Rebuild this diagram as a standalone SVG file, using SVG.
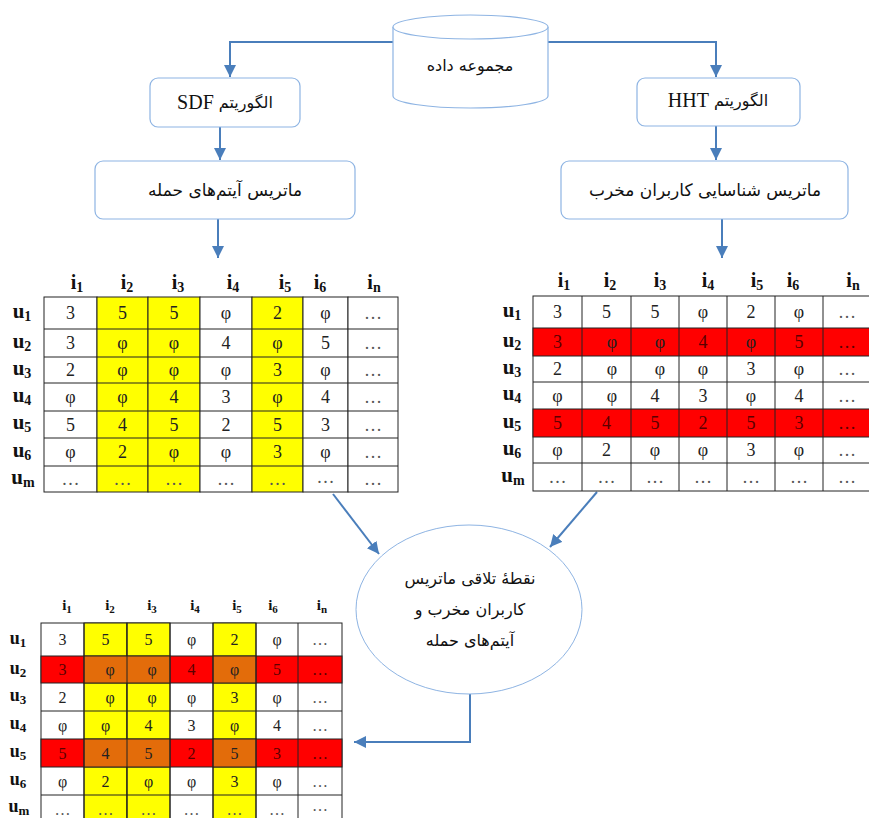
<svg xmlns="http://www.w3.org/2000/svg" width="869" height="818" viewBox="0 0 869 818">
<defs>
<marker id="ah" markerUnits="userSpaceOnUse" markerWidth="14" markerHeight="14" refX="12" refY="6" orient="auto">
<path d="M0,0 L12,6 L0,12 Z" fill="#4A7EBB"/>
</marker>
<style>
.box{fill:#fff;stroke:#8EB4E3;stroke-width:1.2}
.con{fill:none;stroke:#4A7EBB;stroke-width:2;marker-end:url(#ah)}
.fa{font-family:"DejaVu Sans",sans-serif;font-size:16px;fill:#111;text-anchor:middle;dominant-baseline:central}
.en{font-family:"Liberation Serif",serif;font-size:20px}
.c{font-family:"Liberation Serif",serif;font-size:18px;fill:#222;text-anchor:middle;dominant-baseline:central}
.cs{font-family:"Liberation Serif",serif;font-size:16px;fill:#222;text-anchor:middle;dominant-baseline:central}
.d{fill:#555}
.dr{fill:#5a0000}
.h{font-family:"Liberation Serif",serif;font-size:20px;font-weight:bold;fill:#111;text-anchor:middle;dominant-baseline:central}
.hs{font-family:"Liberation Serif",serif;font-size:15px;font-weight:bold;fill:#111;text-anchor:middle;dominant-baseline:central}
.u{font-family:"Liberation Serif",serif;font-size:21px;font-weight:bold;fill:#111;text-anchor:middle;dominant-baseline:central}
.us{font-family:"Liberation Serif",serif;font-size:18px;font-weight:bold;fill:#111;text-anchor:middle;dominant-baseline:central}
.gw{fill:#fff;stroke:#222;stroke-width:1}
.gy{fill:#FFFF00;stroke:#222;stroke-width:1}
.gr{fill:#FF0000;stroke:#222;stroke-width:1}
.go{fill:#E36C0A;stroke:#222;stroke-width:1}
</style>
</defs>
<rect width="869" height="818" fill="#fff"/>

<g id="connectors">
<path class="con" d="M393,42 H230 V77"/>
<path class="con" d="M548,42 H716 V77"/>
<path class="con" d="M220,127 V160"/>
<path class="con" d="M716,126 V160"/>
<path class="con" d="M218,219 V258"/>
<path class="con" d="M722,219 V258"/>
<path class="con" d="M333,494 L379,554"/>
<path class="con" d="M597,492 L550,547"/>
<path class="con" d="M470,694 V742 H354"/>
</g>

<g id="dataset">
<path class="box" d="M393,27 V96 A77.5,12 0 0 0 548,96 V27"/>
<ellipse class="box" cx="470.5" cy="27" rx="77.5" ry="12"/>
<text class="fa" x="470" y="65" direction="rtl">مجموعه داده</text>
</g>

<g id="sdf">
<rect class="box" x="150" y="78" width="150" height="49" rx="8"/>
<text class="fa" x="225" y="102" direction="rtl">الگوریتم <tspan class="en">SDF</tspan></text>
</g>

<g id="hht">
<rect class="box" x="637" y="78" width="163" height="48" rx="8"/>
<text class="fa" x="718" y="100" direction="rtl">الگوریتم <tspan class="en">HHT</tspan></text>
</g>

<g id="attack-matrix">
<rect class="box" x="95" y="161" width="260" height="58" rx="8"/>
<text class="fa" x="225" y="190" direction="rtl" style="font-size:17px">ماتریس آیتم‌های حمله</text>
</g>

<g id="user-matrix">
<rect class="box" x="561" y="161" width="287" height="58" rx="8"/>
<text class="fa" x="705" y="190" direction="rtl" style="font-size:17px">ماتریس شناسایی کاربران مخرب</text>
</g>

<g id="intersection">
<ellipse cx="469" cy="609.5" rx="113" ry="84.5" fill="#fff" stroke="#8EB4E3" stroke-width="1"/>
<text class="fa" x="470" y="578" direction="rtl">نقطهٔ تلاقی ماتریس</text>
<text class="fa" x="470" y="609" direction="rtl">کاربران مخرب و</text>
<text class="fa" x="470" y="640" direction="rtl">آیتم‌های حمله</text>
</g>

<g id="table-left">
<text class="h" x="77" y="282">i<tspan font-size="14" dy="5">1</tspan></text>
<text class="h" x="127" y="282">i<tspan font-size="14" dy="5">2</tspan></text>
<text class="h" x="178" y="282">i<tspan font-size="14" dy="5">3</tspan></text>
<text class="h" x="233" y="282">i<tspan font-size="14" dy="5">4</tspan></text>
<text class="h" x="285" y="282">i<tspan font-size="14" dy="5">5</tspan></text>
<text class="h" x="320" y="282">i<tspan font-size="14" dy="5">6</tspan></text>
<text class="h" x="374" y="282">i<tspan font-size="14" dy="5">n</tspan></text>
<text class="u" x="22" y="311">u<tspan font-size="14" dy="5">1</tspan></text>
<text class="u" x="22" y="341">u<tspan font-size="14" dy="5">2</tspan></text>
<text class="u" x="22" y="368">u<tspan font-size="14" dy="5">3</tspan></text>
<text class="u" x="22" y="395">u<tspan font-size="14" dy="5">4</tspan></text>
<text class="u" x="22" y="422">u<tspan font-size="14" dy="5">5</tspan></text>
<text class="u" x="22" y="450">u<tspan font-size="14" dy="5">6</tspan></text>
<text class="u" x="23" y="477">u<tspan font-size="14" dy="5">m</tspan></text>
<g>
<rect class="gw" x="44" y="297" width="53" height="195"/>
<rect class="gy" x="97" y="297" width="51" height="195"/>
<rect class="gy" x="148" y="297" width="52" height="195"/>
<rect class="gw" x="200" y="297" width="52" height="195"/>
<rect class="gy" x="252" y="297" width="51" height="195"/>
<rect class="gw" x="303" y="297" width="45" height="195"/>
<rect class="gw" x="348" y="297" width="50" height="195"/>
<path d="M44,329 H398 M44,357 H398 M44,383 H398 M44,411 H398 M44,438 H398 M44,466 H398" stroke="#222" stroke-width="1"/>
</g>
<g class="c">
<text x="70.5" y="313">3</text><text x="122.5" y="313">5</text><text x="174" y="313">5</text><text x="226" y="313">φ</text><text x="277.5" y="313">2</text><text x="325.5" y="313">φ</text><text class="d" x="373" y="313">…</text>
<text x="70.5" y="343">3</text><text x="122.5" y="343">φ</text><text x="174" y="343">φ</text><text x="226" y="343">4</text><text x="277.5" y="343">φ</text><text x="325.5" y="343">5</text><text class="d" x="373" y="343">…</text>
<text x="70.5" y="370">2</text><text x="122.5" y="370">φ</text><text x="174" y="370">φ</text><text x="226" y="370">φ</text><text x="277.5" y="370">3</text><text x="325.5" y="370">φ</text><text class="d" x="373" y="370">…</text>
<text x="70.5" y="397">φ</text><text x="122.5" y="397">φ</text><text x="174" y="397">4</text><text x="226" y="397">3</text><text x="277.5" y="397">φ</text><text x="325.5" y="397">4</text><text class="d" x="373" y="397">…</text>
<text x="70.5" y="424.5">5</text><text x="122.5" y="424.5">4</text><text x="174" y="424.5">5</text><text x="226" y="424.5">2</text><text x="277.5" y="424.5">5</text><text x="325.5" y="424.5">3</text><text class="d" x="373" y="424.5">…</text>
<text x="70.5" y="452">φ</text><text x="122.5" y="452">2</text><text x="174" y="452">φ</text><text x="226" y="452">φ</text><text x="277.5" y="452">3</text><text x="325.5" y="452">φ</text><text class="d" x="373" y="452">…</text>
<text class="d" x="70.5" y="479">…</text><text class="d" x="122.5" y="479">…</text><text class="d" x="174" y="479">…</text><text class="d" x="226" y="479">…</text><text class="d" x="277.5" y="479">…</text><text class="d" x="325.5" y="477">…</text><text class="d" x="373" y="479">…</text>
</g>
</g>

<g id="table-right">
<text class="h" x="564" y="280">i<tspan font-size="14" dy="5">1</tspan></text>
<text class="h" x="610" y="280">i<tspan font-size="14" dy="5">2</tspan></text>
<text class="h" x="660" y="280">i<tspan font-size="14" dy="5">3</tspan></text>
<text class="h" x="708" y="280">i<tspan font-size="14" dy="5">4</tspan></text>
<text class="h" x="757" y="280">i<tspan font-size="14" dy="5">5</tspan></text>
<text class="h" x="793" y="280">i<tspan font-size="14" dy="5">6</tspan></text>
<text class="h" x="853" y="280">i<tspan font-size="14" dy="5">n</tspan></text>
<text class="u" x="512" y="310">u<tspan font-size="14" dy="5">1</tspan></text>
<text class="u" x="512" y="340">u<tspan font-size="14" dy="5">2</tspan></text>
<text class="u" x="512" y="367">u<tspan font-size="14" dy="5">3</tspan></text>
<text class="u" x="512" y="393">u<tspan font-size="14" dy="5">4</tspan></text>
<text class="u" x="512" y="421">u<tspan font-size="14" dy="5">5</tspan></text>
<text class="u" x="512" y="448">u<tspan font-size="14" dy="5">6</tspan></text>
<text class="u" x="513" y="475">u<tspan font-size="14" dy="5">m</tspan></text>
<g>
<rect class="gw" x="533" y="296" width="338" height="195"/>
<rect class="gr" x="533" y="328" width="338" height="28"/>
<rect class="gr" x="533" y="409" width="338" height="28"/>
<path d="M533,382 H871 M533,463 H871 M582,296 V491 M631,296 V491 M679,296 V491 M727,296 V491 M775,296 V491 M823,296 V491" stroke="#222" stroke-width="1"/>
</g>
<g class="c">
<text x="557.5" y="312">3</text><text x="606.5" y="312">5</text><text x="655" y="312">5</text><text x="703" y="312">φ</text><text x="751" y="312">2</text><text x="799" y="312">φ</text><text class="d" x="847" y="312">…</text>
<text class="dr" x="557.5" y="342">3</text><text x="612" y="342">φ</text><text x="660" y="342">φ</text><text class="dr" x="703" y="342">4</text><text x="751" y="342">φ</text><text class="dr" x="799" y="342">5</text><text class="dr" x="847" y="342">…</text>
<text x="557.5" y="369">2</text><text x="612" y="369">φ</text><text x="660" y="369">φ</text><text x="703" y="369">φ</text><text x="751" y="369">3</text><text x="799" y="369">φ</text><text class="d" x="847" y="369">…</text>
<text x="557.5" y="395.5">φ</text><text x="612" y="395.5">φ</text><text x="655" y="395.5">4</text><text x="703" y="395.5">3</text><text x="751" y="395.5">φ</text><text x="799" y="395.5">4</text><text class="d" x="847" y="395.5">…</text>
<text class="dr" x="557.5" y="423">5</text><text class="dr" x="606.5" y="423">4</text><text class="dr" x="655" y="423">5</text><text class="dr" x="703" y="423">2</text><text class="dr" x="751" y="423">5</text><text class="dr" x="799" y="423">3</text><text class="dr" x="847" y="423">…</text>
<text x="557.5" y="450">φ</text><text x="606.5" y="450">2</text><text x="655" y="450">φ</text><text x="703" y="450">φ</text><text x="751" y="450">3</text><text x="799" y="450">φ</text><text class="d" x="847" y="450">…</text>
<text class="d" x="557.5" y="477">…</text><text class="d" x="606.5" y="477">…</text><text class="d" x="655" y="477">…</text><text class="d" x="703" y="477">…</text><text class="d" x="751" y="477">…</text><text class="d" x="799" y="477">…</text><text class="d" x="847" y="477">…</text>
</g>
</g>

<g id="table-result">
<text class="hs" x="67" y="605">i<tspan font-size="11" dy="4">1</tspan></text>
<text class="hs" x="110" y="605">i<tspan font-size="11" dy="4">2</tspan></text>
<text class="hs" x="152" y="605">i<tspan font-size="11" dy="4">3</tspan></text>
<text class="hs" x="195" y="605">i<tspan font-size="11" dy="4">4</tspan></text>
<text class="hs" x="237" y="605">i<tspan font-size="11" dy="4">5</tspan></text>
<text class="hs" x="273" y="605">i<tspan font-size="11" dy="4">6</tspan></text>
<text class="hs" x="322" y="605">i<tspan font-size="11" dy="4">n</tspan></text>
<text class="us" x="18" y="638">u<tspan font-size="13" dy="4">1</tspan></text>
<text class="us" x="18" y="668">u<tspan font-size="13" dy="4">2</tspan></text>
<text class="us" x="18" y="695">u<tspan font-size="13" dy="4">3</tspan></text>
<text class="us" x="18" y="723">u<tspan font-size="13" dy="4">4</tspan></text>
<text class="us" x="18" y="751">u<tspan font-size="13" dy="4">5</tspan></text>
<text class="us" x="18" y="779">u<tspan font-size="13" dy="4">6</tspan></text>
<text class="us" x="19" y="806">u<tspan font-size="13" dy="4">m</tspan></text>
<g>
<rect class="gw" x="41" y="623" width="301" height="200"/>
<rect class="gy" x="84" y="623" width="43" height="200"/>
<rect class="gy" x="127" y="623" width="43" height="200"/>
<rect class="gy" x="213" y="623" width="43" height="200"/>
<rect class="gr" x="41" y="656" width="301" height="27"/>
<rect class="gr" x="41" y="739" width="301" height="28"/>
<rect class="go" x="84" y="656" width="86" height="27"/>
<rect class="go" x="213" y="656" width="43" height="27"/>
<rect class="go" x="84" y="739" width="86" height="28"/>
<rect class="go" x="213" y="739" width="43" height="28"/>
<path d="M41,711 H342 M41,795 H342 M84,623 V823 M127,623 V823 M170,623 V823 M213,623 V823 M256,623 V823 M298,623 V823" stroke="#222" stroke-width="1"/>
</g>
<g class="cs">
<text x="62.5" y="639.5">3</text><text x="105.5" y="639.5">5</text><text x="148.5" y="639.5">5</text><text x="191.5" y="639.5">φ</text><text x="234.5" y="639.5">2</text><text x="277" y="639.5">φ</text><text class="d" x="320" y="639.5">…</text>
<text class="dr" x="62.5" y="669.5">3</text><text x="110" y="669.5">φ</text><text x="152" y="669.5">φ</text><text class="dr" x="191.5" y="669.5">4</text><text x="234.5" y="669.5">φ</text><text class="dr" x="277" y="669.5">5</text><text class="dr" x="320" y="669.5">…</text>
<text x="62.5" y="697">2</text><text x="110" y="697">φ</text><text x="152" y="697">φ</text><text x="191.5" y="697">φ</text><text x="234.5" y="697">3</text><text x="277" y="697">φ</text><text class="d" x="320" y="697">…</text>
<text x="62.5" y="725">φ</text><text x="105.5" y="725">φ</text><text x="148.5" y="725">4</text><text x="191.5" y="725">3</text><text x="234.5" y="725">φ</text><text x="277" y="725">4</text><text class="d" x="320" y="725">…</text>
<text class="dr" x="62.5" y="753">5</text><text x="105.5" y="753">4</text><text x="148.5" y="753">5</text><text class="dr" x="191.5" y="753">2</text><text x="234.5" y="753">5</text><text class="dr" x="277" y="753">3</text><text class="dr" x="320" y="753">…</text>
<text x="62.5" y="781">φ</text><text x="105.5" y="781">2</text><text x="148.5" y="781">φ</text><text x="191.5" y="781">φ</text><text x="234.5" y="781">3</text><text x="277" y="781">φ</text><text class="d" x="320" y="781">…</text>
<text class="d" x="62.5" y="809">…</text><text class="d" x="105.5" y="809">…</text><text class="d" x="148.5" y="809">…</text><text class="d" x="191.5" y="809">…</text><text class="d" x="234.5" y="809">…</text><text class="d" x="277" y="809">…</text><text class="d" x="320" y="805">…</text>
</g>
</g>
</svg>
